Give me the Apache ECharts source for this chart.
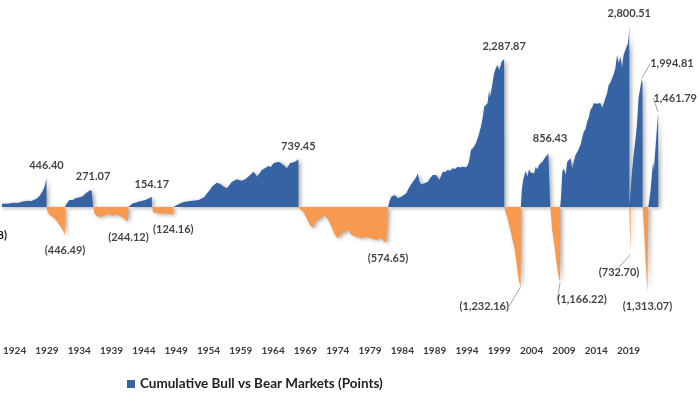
<!DOCTYPE html>
<html><head><meta charset="utf-8">
<script src="https://cdn.jsdelivr.net/npm/echarts@6/dist/echarts.min.js"></script>
<style>html,body{margin:0;padding:0;background:#fff}#c{width:700px;height:394px}</style>
</head><body><div id="c"></div>
<script>
// ---- DATA: [position on the year axis, cumulative points] ----
const bull_1921_1929 = [[1921.60,0],[1922.20,55],[1922.97,50],[1923.74,65],[1924.51,60],[1925.28,85],[1926.05,95],[1926.51,90],[1926.97,110],[1927.44,130],[1927.85,170],[1928.13,200],[1928.36,250],[1928.59,300],[1928.78,370],[1928.93,446.40],[1928.95,0]];
const bear_1929_1932 = [[1928.95,0],[1929.05,-60],[1929.39,-124],[1929.90,-150],[1930.41,-200],[1930.93,-280],[1931.44,-356],[1931.70,-407],[1931.80,-446.49],[1931.82,0]];
const bull_1932_1937 = [[1931.82,0],[1931.98,40],[1932.21,60],[1932.47,108],[1932.72,135],[1932.98,110],[1933.24,119],[1933.52,140],[1933.75,160],[1934.14,150],[1934.52,165],[1935.03,212],[1935.56,252],[1935.91,260],[1936.14,271.07],[1936.16,0]];
const bear_1937_1942 = [[1936.16,0],[1936.37,-110],[1936.68,-130],[1937.10,-160],[1937.60,-139],[1938.11,-124],[1938.64,-108],[1939.14,-139],[1939.65,-110],[1940.18,-139],[1940.69,-160],[1941.19,-201],[1941.50,-228],[1941.61,-244.12],[1941.63,0]];
const bull_1942_1946 = [[1941.63,0],[1941.92,30],[1942.23,55],[1942.69,66],[1943.15,80],[1943.77,95],[1944.28,108],[1944.80,135],[1945.00,140],[1945.23,154.17],[1945.25,0]];
const bear_1946_1949 = [[1945.25,0],[1945.46,-85],[1946.08,-95],[1946.85,-100],[1947.62,-105],[1948.24,-110],[1948.55,-124.16],[1948.57,0]];
const bull_1949_1968 = [[1948.57,0],[1948.78,20],[1949.42,46],[1949.93,70],[1950.44,82],[1950.93,90],[1951.47,98],[1951.98,100],[1952.50,108],[1953.01,134],[1953.40,160],[1953.78,212],[1954.17,260],[1954.55,314],[1954.94,350],[1955.32,376],[1955.83,356],[1956.09,335],[1956.36,314],[1956.63,330],[1956.86,289],[1957.25,340],[1957.63,392],[1958.02,410],[1958.41,429],[1958.79,415],[1959.17,407],[1959.68,429],[1960.10,465],[1960.45,495],[1960.98,547],[1961.26,510],[1961.49,469],[1961.87,520],[1962.26,573],[1962.72,600],[1963.29,635],[1963.64,620],[1964.06,676],[1964.41,690],[1964.83,701],[1965.18,680],[1965.60,650],[1965.88,625],[1966.11,599],[1966.37,640],[1966.62,676],[1966.96,690],[1967.39,701],[1967.65,720],[1967.91,739.45],[1967.93,0]];
const bear_1968_1982 = [[1967.93,0],[1968.19,-40],[1968.68,-73],[1969.19,-175],[1969.70,-279],[1970.22,-330],[1970.47,-228],[1970.99,-201],[1971.50,-150],[1972.01,-124],[1972.53,-201],[1973.04,-305],[1973.55,-434],[1974.07,-485],[1974.58,-407],[1975.09,-382],[1975.62,-356],[1976.13,-434],[1976.90,-460],[1977.67,-485],[1978.43,-460],[1979.21,-485],[1979.98,-511],[1980.49,-469],[1981.01,-521],[1981.52,-553],[1981.78,-574.65],[1981.80,0]];
const bull_1982_2000 = [[1981.80,0],[1981.98,82],[1982.29,160],[1982.80,186],[1983.32,134],[1983.83,160],[1984.60,212],[1985.11,314],[1985.63,392],[1986.06,450],[1986.40,520],[1986.65,392],[1986.91,350],[1987.17,340],[1987.53,370],[1987.94,392],[1988.30,450],[1988.71,495],[1989.22,495],[1989.73,418],[1990.25,547],[1990.61,540],[1991.02,573],[1991.38,560],[1991.79,599],[1992.15,590],[1992.56,624],[1992.92,610],[1993.33,624],[1993.69,615],[1994.00,624],[1994.31,700],[1994.61,882],[1995.00,920],[1995.38,986],[1995.77,1100],[1996.16,1243],[1996.46,1400],[1996.66,1553],[1996.92,1530],[1997.18,1605],[1997.43,1811],[1997.54,1700],[1997.69,1760],[1997.92,1900],[1998.20,2070],[1998.47,2150],[1998.73,2198],[1998.97,2121],[1999.24,2200],[1999.34,2250],[1999.54,2230],[1999.75,2287.87],[1999.77,0]];
const bear_2000_2002 = [[1999.77,0],[2000.01,-98],[2000.27,-175],[2000.51,-279],[2000.78,-382],[2001.04,-511],[2001.29,-614],[2001.55,-769],[2001.81,-975],[2002.06,-1156],[2002.32,-1232.16],[2002.34,0]];
const bull_2002_2007 = [[2002.34,0],[2002.47,250],[2002.70,420],[2003.09,560],[2003.35,469],[2003.60,584],[2003.86,530],[2004.12,547],[2004.40,520],[2004.63,624],[2004.89,580],[2005.14,650],[2005.40,620],[2005.66,701],[2005.91,680],[2006.17,779],[2006.40,760],[2006.59,830],[2006.86,856.43],[2006.88,0]];
const bear_2007_2009 = [[2006.88,0],[2007.02,-150],[2007.17,-356],[2007.40,-500],[2007.56,-614],[2007.87,-870],[2008.18,-1080],[2008.41,-1166.22],[2008.43,0]];
const bull_2009_2020 = [[2008.43,0],[2008.56,160],[2008.75,547],[2008.99,599],[2009.25,495],[2009.52,701],[2009.76,720],[2010.02,753],[2010.28,599],[2010.53,700],[2010.79,805],[2011.18,870],[2011.56,960],[2011.82,940],[2012.07,1166],[2012.33,1200],[2012.59,1320],[2012.84,1380],[2013.10,1502],[2013.37,1540],[2013.61,1605],[2013.88,1630],[2014.14,1600],[2014.38,1579],[2014.64,1610],[2014.91,1528],[2015.15,1600],[2015.41,1683],[2015.68,1760],[2015.92,1889],[2016.18,1920],[2016.45,1992],[2016.69,2050],[2016.96,2147],[2017.22,2353],[2017.47,2224],[2017.73,2327],[2017.99,2147],[2018.23,2353],[2018.61,2457],[2018.91,2534],[2019.03,2650],[2019.11,2800.51],[2019.13,0]];
const bear_2020 = [[2019.13,0],[2019.22,-400],[2019.31,-732.70],[2019.33,0]];
const bull_2020_2022 = [[2019.33,0],[2019.53,547],[2019.78,805],[2020.04,1011],[2020.30,1269],[2020.55,1683],[2020.81,1837],[2021.07,1994.81],[2021.16,1900],[2021.18,0]];
const bear_2022 = [[2021.18,0],[2021.34,-250],[2021.50,-550],[2021.65,-850],[2021.81,-1150],[2021.92,-1313.07],[2022.05,0]];
const bull_2022_2024 = [[2022.05,0],[2022.23,120],[2022.38,237],[2022.57,443],[2022.70,600],[2022.82,701],[2022.93,560],[2023.08,805],[2023.24,1011],[2023.43,1269],[2023.58,1461.79],[2023.60,0]];

const yearTicks = [1924,1929,1934,1939,1944,1949,1954,1959,1964,1969,1974,1979,1984,1989,1994,1999,2004,2009,2014,2019];
const bullName = 'Cumulative Bull vs Bear Markets (Points)';

// ---- build ----
const cycles = [
  ['bull_1921_1929', bull_1921_1929], ['bear_1929_1932', bear_1929_1932],
  ['bull_1932_1937', bull_1932_1937], ['bear_1937_1942', bear_1937_1942],
  ['bull_1942_1946', bull_1942_1946], ['bear_1946_1949', bear_1946_1949],
  ['bull_1949_1968', bull_1949_1968], ['bear_1968_1982', bear_1968_1982],
  ['bull_1982_2000', bull_1982_2000], ['bear_2000_2002', bear_2000_2002],
  ['bull_2002_2007', bull_2002_2007], ['bear_2007_2009', bear_2007_2009],
  ['bull_2009_2020', bull_2009_2020], ['bear_2020', bear_2020],
  ['bull_2020_2022', bull_2020_2022], ['bear_2022', bear_2022],
  ['bull_2022_2024', bull_2022_2024]
];
const bullData = [].concat(...cycles.filter(c => c[0].startsWith('bull')).map(c => c[1]));
const bearData = [].concat(...cycles.filter(c => c[0].startsWith('bear')).map(c => c[1]));
const extremes = cycles.map(([name, d]) => {
  let best = d[0];
  d.forEach(p => { if (Math.abs(p[1]) > Math.abs(best[1])) best = p; });
  return { name, point: best };
});

// label nudges (px) for labels that have leader lines
const leaderNudge = {
  bull_2020_2022: [30, -1.5],
  bull_2022_2024: [17, -1.5],
  bear_2000_2002: [-36.5, 5],
  bear_2007_2009: [22, 3],
  bear_2020: [-11.5, 4]
};

const fmt = v => {
  const s = Math.abs(v).toLocaleString('en-US', {minimumFractionDigits: 2, maximumFractionDigits: 2});
  return v < 0 ? '(' + s + ')' : s;
};
const labelFont = {fontFamily: 'Lato', fontWeight: 'bold', fontSize: 11, color: '#111'};
const mkItem = e => ({
  value: e.point,
  label: e.point[1] >= 0 ? {position: 'top', distance: 7} : {position: 'bottom', distance: 8.5}
});
const plain = extremes.filter(e => !leaderNudge[e.name]);
const leaders = extremes.filter(e => leaderNudge[e.name]);

const shadow = {shadowColor: 'rgba(0,0,0,0.35)', shadowBlur: 4, shadowOffsetX: 2, shadowOffsetY: 1};

const chart = echarts.init(document.getElementById('c'), null, {renderer: 'canvas'});
chart.setOption({
  animation: false,
  grid: {left: 0, right: 0, top: 13.2, bottom: 57.8, containLabel: false},
  xAxis: {
    type: 'value', min: 1922.197, max: 2030.055,
    axisLine: {show: false}, axisTick: {show: false}, splitLine: {show: false},
    axisLabel: {
      customValues: yearTicks, margin: 10,
      formatter: v => String(Math.round(v)),
      fontFamily: 'Lato', fontWeight: 'bold', fontSize: 10, color: '#3a3a3a'
    }
  },
  yAxis: {type: 'value', min: -2000, max: 3000, show: false},
  legend: {
    data: [bullName], left: 122, top: 372, icon: 'rect', itemWidth: 8, itemHeight: 8, itemGap: 5,
    textStyle: {fontFamily: 'Lato', fontWeight: 'bold', fontSize: 13.5, color: '#222'}
  },
  graphic: [{
    type: 'text', x: 7, y: 235,
    style: {text: '(…8)', align: 'right', verticalAlign: 'middle', fill: '#111', font: 'bold 11px Lato'}
  }],
  series: [
    {
      name: bullName, type: 'line', data: bullData, symbol: 'none', showSymbol: false,
      lineStyle: {width: 0}, itemStyle: {color: '#3563A3'},
      areaStyle: Object.assign({color: '#3563A3', opacity: 1}, shadow), z: 2
    },
    {
      name: 'Bear', type: 'line', data: bearData, symbol: 'none', showSymbol: false,
      lineStyle: {width: 0}, itemStyle: {color: '#F79A50'},
      areaStyle: Object.assign({color: '#F79A50', opacity: 1}, shadow), z: 2
    },
    {
      type: 'scatter', data: plain.map(mkItem), symbolSize: 1, silent: true, clip: false, z: 5,
      itemStyle: {color: 'rgba(0,0,0,0)'},
      label: Object.assign({show: true, formatter: p => fmt(p.value[1])}, labelFont)
    },
    {
      type: 'scatter', data: leaders.map(mkItem), symbolSize: 1, silent: true, clip: false, z: 5,
      itemStyle: {color: 'rgba(0,0,0,0)'},
      label: Object.assign({show: true, formatter: p => fmt(p.value[1])}, labelFont),
      labelLine: {show: true, lineStyle: {color: '#a6a6a6', width: 1}},
      labelLayout: p => {
        const n = leaderNudge[leaders[p.dataIndex].name];
        return {dx: n[0], dy: n[1]};
      }
    }
  ]
});
</script></body></html>
